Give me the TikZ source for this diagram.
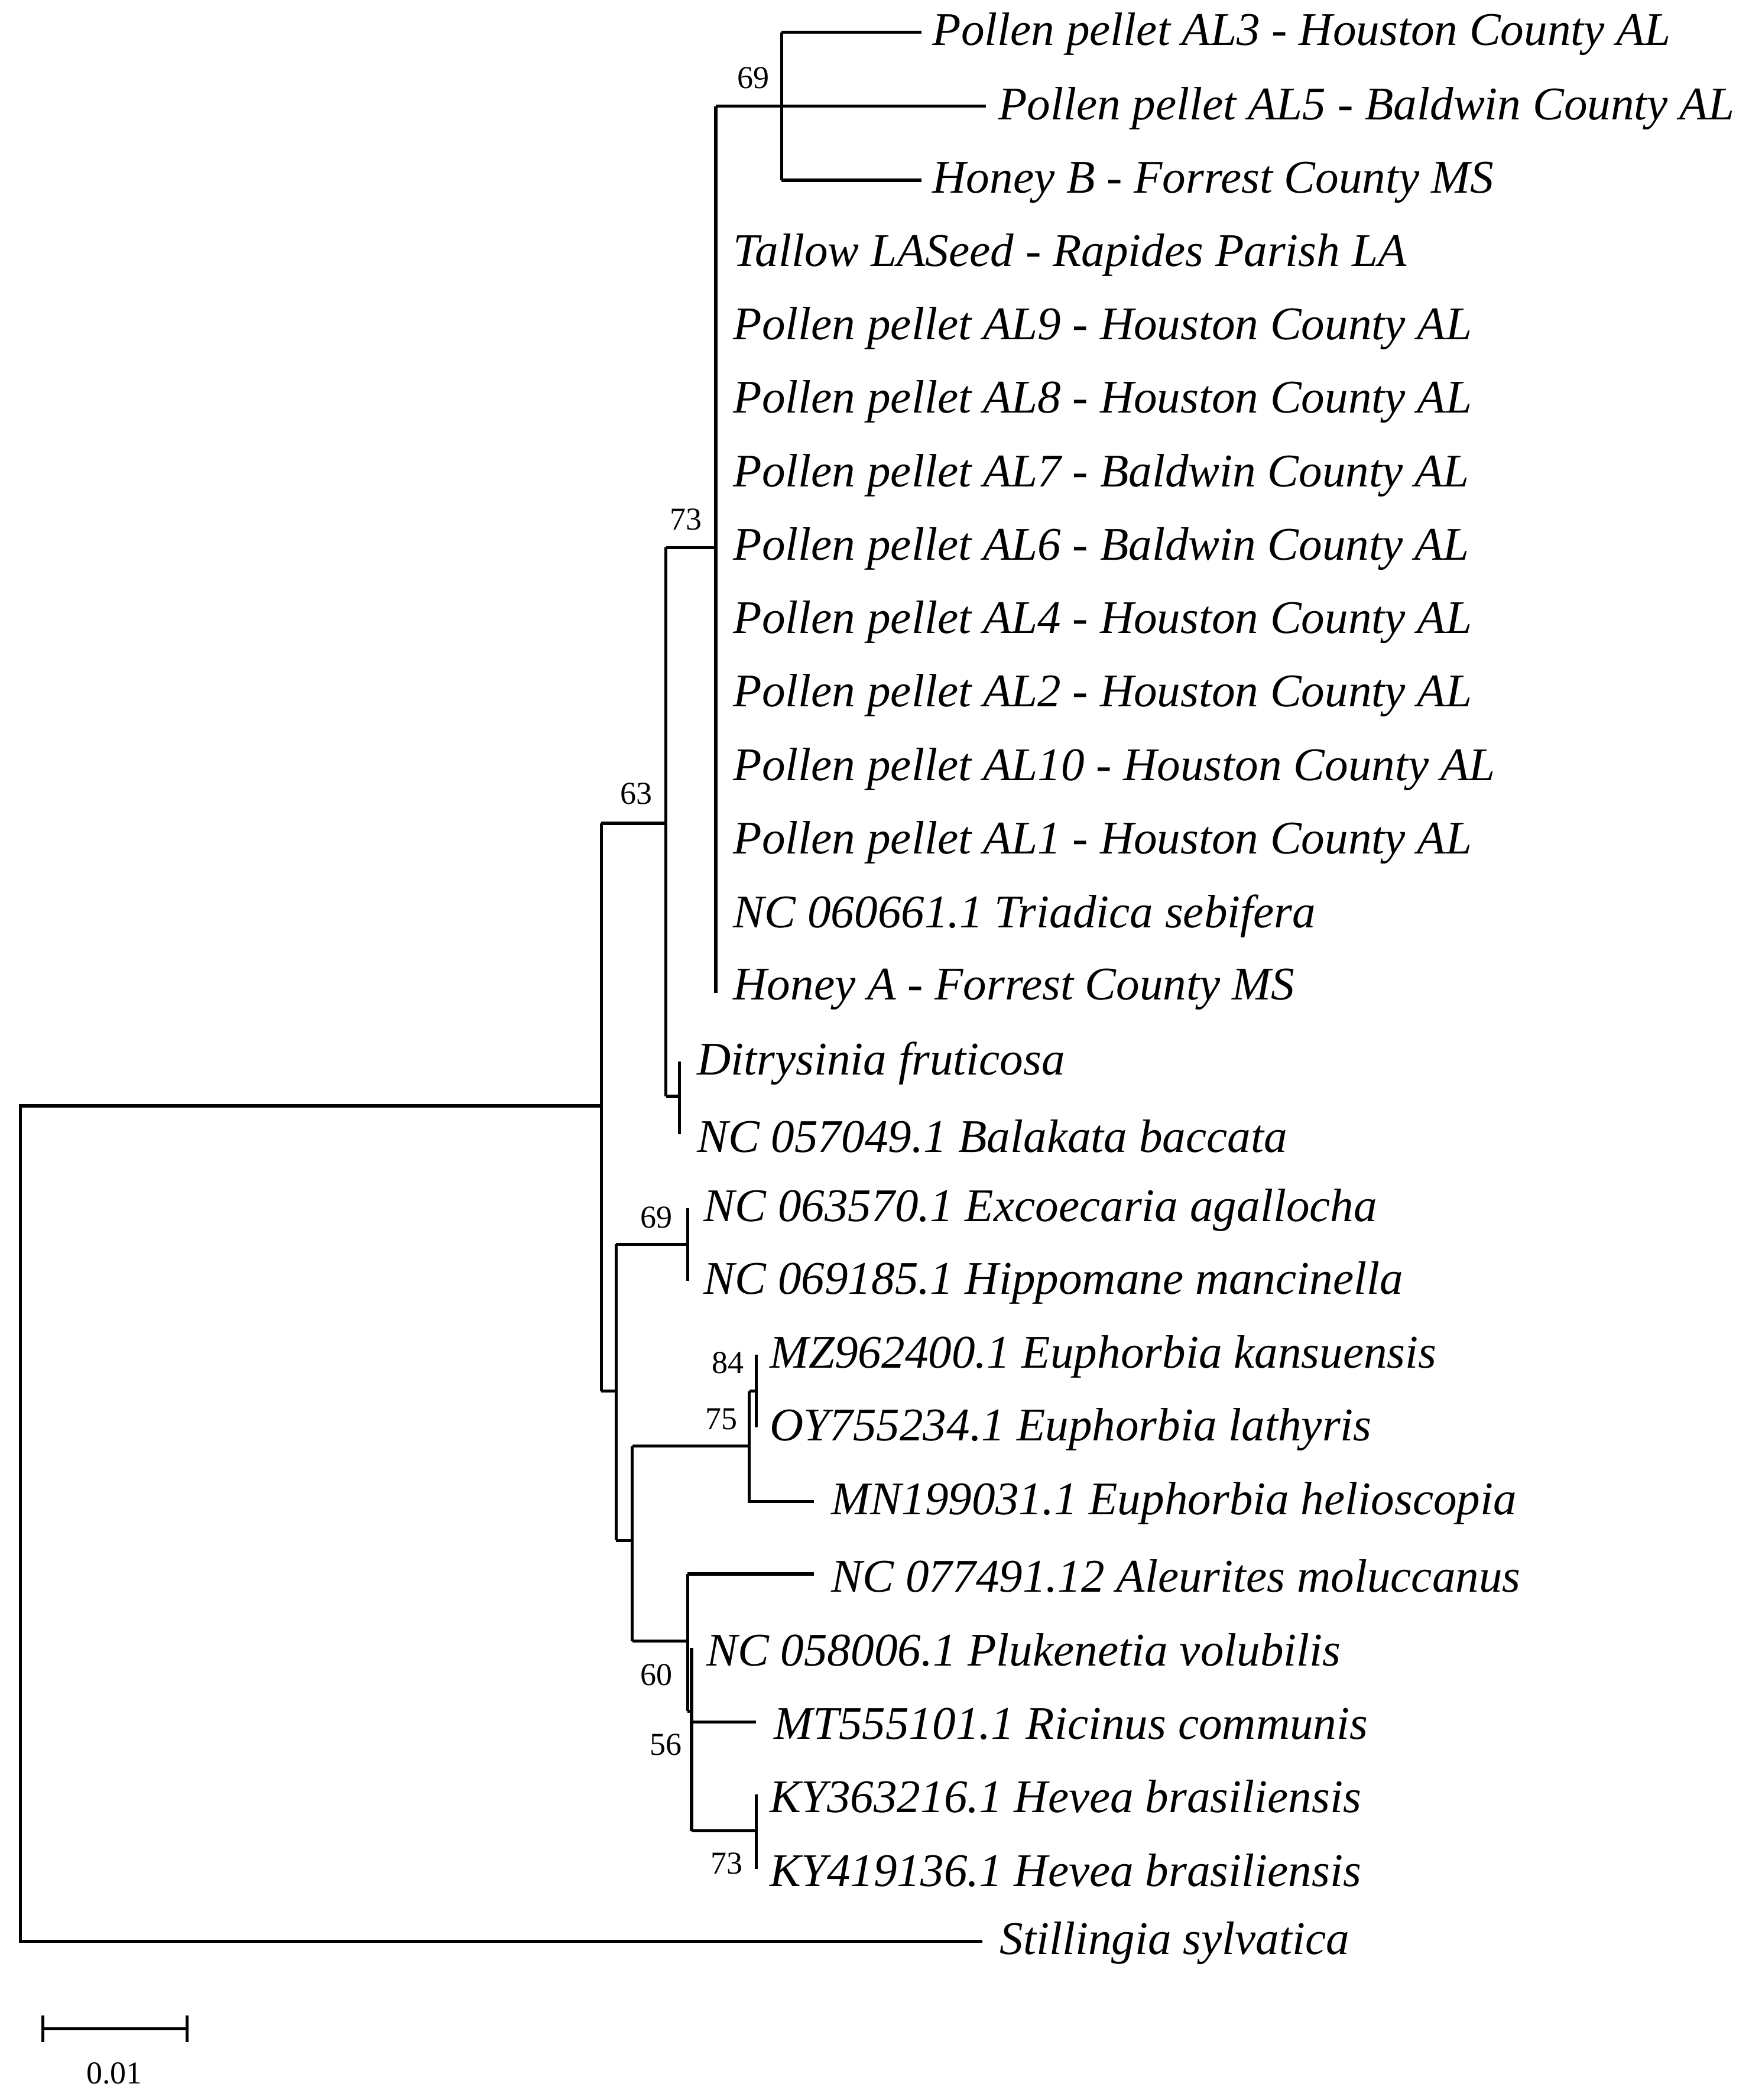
\documentclass[tikz,border=0pt]{standalone}
\usepackage{fontspec}
\setmainfont{Liberation Serif}
\begin{document}
\begin{tikzpicture}[x=0.02cm,y=-0.02cm,line width=1.3pt,
 lf/.style={anchor=west,font=\fontsize{19.8}{21}\selectfont\itshape,inner sep=0pt,xshift=-0.06cm,yshift=-0.03cm},
 bs/.style={font=\fontsize{13.5}{15}\selectfont,inner sep=0pt}]
\useasboundingbox (0,0) rectangle (1300,1561);
% leaves
\node[lf] (l1) at (695,24) {Pollen pellet AL3 - Houston County AL};
\node[lf] (l2) at (744,79) {Pollen pellet AL5 - Baldwin County AL};
\node[lf] (l3) at (695,134) {Honey B - Forrest County MS};
\foreach \t [count=\i from 0] in {Tallow LASeed - Rapides Parish LA,Pollen pellet AL9 - Houston County AL,Pollen pellet AL8 - Houston County AL,Pollen pellet AL7 - Baldwin County AL,Pollen pellet AL6 - Baldwin County AL,Pollen pellet AL4 - Houston County AL,Pollen pellet AL2 - Houston County AL,Pollen pellet AL10 - Houston County AL,Pollen pellet AL1 - Houston County AL,NC 060661.1 Triadica sebifera,Honey A - Forrest County MS}
  \node[lf] at (547,188+54.6*\i) {\t};
\node[lf] at (520,789) {Ditrysinia fruticosa};
\node[lf] at (520,843) {NC 057049.1 Balakata baccata};
\node[lf] at (525,898) {NC 063570.1 Excoecaria agallocha};
\node[lf] at (525,952) {NC 069185.1 Hippomane mancinella};
\node[lf] at (574,1007) {MZ962400.1 Euphorbia kansuensis};
\node[lf] at (574,1061) {OY755234.1 Euphorbia lathyris};
\node[lf] at (620,1116) {MN199031.1 Euphorbia helioscopia};
\node[lf] at (620,1170) {NC 077491.12 Aleurites moluccanus};
\node[lf] at (527,1225) {NC 058006.1 Plukenetia volubilis};
\node[lf] at (577,1280) {MT555101.1 Ricinus communis};
\node[lf] at (574,1334) {KY363216.1 Hevea brasiliensis};
\node[lf] at (574,1389) {KY419136.1 Hevea brasiliensis};
\node[lf] at (745,1443) {Stillingia sylvatica};
% tree
\draw (730,1443) -| (15,822) -- (447,822);
\draw (447,612) -- (447,1034);
\draw (447,612) -- (495,612) (495,407) -- (495,815);
\draw (495,407) -- (532,407) (532,79) -- (532,738);
\draw (532,79) -- (581,79) (581,24) -- (581,134);
\draw (581,24) -- (685,24) (581,79) -- (733,79) (581,134) -- (685,134);
\draw (495,815) -- (505,815) (505,789) -- (505,843);
\draw (447,1034) -- (458,1034) (458,925) -- (458,1145);
\draw (458,925) -- (511,925) (511,898) -- (511,952);
\draw (458,1145) -- (470,1145) (470,1075) -- (470,1220);
\draw (470,1075) -- (557,1075) (557,1034) -- (557,1116) -- (605,1116);
\draw (557,1034) -- (562,1034) (562,1007) -- (562,1061);
\draw (470,1220) -- (511,1220) (511,1170) -- (511,1272);
\draw (511,1170) -- (605,1170);
\draw (511,1272) -- (514,1272) (514,1225) -- (514,1361);
\draw (514,1280) -- (562,1280) (514,1361) -- (562,1361) (562,1334) -- (562,1389);
% bootstrap
\node[bs] at (560,58) {69};
\node[bs] at (510,386) {73};
\node[bs] at (473,590) {63};
\node[bs] at (488,905) {69};
\node[bs] at (541,1013) {84};
\node[bs] at (536,1055) {75};
\node[bs] at (488,1245) {60};
\node[bs] at (495,1297) {56};
\node[bs] at (540,1385) {73};
% scale
\draw (32,1508) -- (139,1508) (32,1498) -- (32,1518) (139,1498) -- (139,1518);
\node[bs] at (85,1541) {0.01};
\end{tikzpicture}
\end{document}
